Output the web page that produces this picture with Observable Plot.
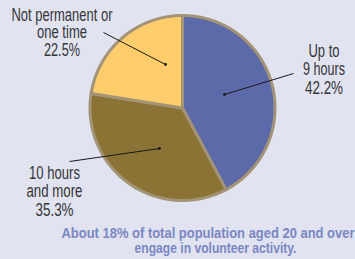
<!DOCTYPE html>
<html>
<head>
<meta charset="utf-8">
<script src="https://cdn.jsdelivr.net/npm/d3@7"></script>
<script src="https://cdn.jsdelivr.net/npm/@observablehq/plot@0.6"></script>
<style>
  html, body { margin: 0; padding: 0; background: #e1e3f1; }
  #chart { width: 355px; height: 259px; overflow: hidden; }
</style>
</head>
<body>
<div id="chart"></div>
<script>
// ---- data ----
const categories = ["Up to 9 hours", "10 hours and more", "Not permanent or one time"];
const shares = [42.2, 35.3, 22.5];
const labelLines = [
  ["Up to", "9 hours", "42.2%"],
  ["10 hours", "and more", "35.3%"],
  ["Not permanent or", "one time", "22.5%"]
];
const captionLines = [
  "About 18% of total population aged 20 and over",
  "engage in volunteer activity."
];
const colors = ["#5d6aa9", "#8b7335", "#fccd6a"];

// ---- layout (pixel space) ----
const W = 355, H = 259;
const pie = {cx: 182, cy: 107.5, r: 92.5};
const labelLayout = [
  {x: 323.5, ys: [56, 74, 93], widths: [31, 42, 38], lx1: 224, ly1: 94, lx2: 293, ly2: 73},
  {x: 54, ys: [178, 196, 215], widths: [51, 56, 38], lx1: 159, ly1: 148, lx2: 69, ly2: 161},
  {x: 61.5, ys: [20, 37.5, 55], widths: [101, 50, 36], lx1: 165, ly1: 64, lx2: 103, ly2: 32}
];
const captionLayout = [{x: 61, y: 237, width: 293}, {x: 134, y: 252.5, width: 162}];

const arcs = d3.pie().sort(null).value(d => d.value)(
  categories.map((c, i) => ({category: c, value: shares[i]}))
);
const polyPoints = [];
for (const a of arcs) {
  polyPoints.push({category: a.data.category, x: pie.cx, y: pie.cy});
  const n = Math.max(2, Math.ceil((a.endAngle - a.startAngle) / 0.01));
  for (let k = 0; k <= n; k++) {
    const t = a.startAngle + (a.endAngle - a.startAngle) * k / n;
    polyPoints.push({category: a.data.category, x: pie.cx + pie.r * Math.sin(t), y: pie.cy - pie.r * Math.cos(t)});
  }
}
const leaders = categories.map((c, i) => ({category: c, ...labelLayout[i]}));
const labelRows = [];
labelLines.forEach((lines, i) => lines.forEach((t, j) => labelRows.push({
  text: t, x: labelLayout[i].x, y: labelLayout[i].ys[j], width: labelLayout[i].widths[j]
})));
const captions = captionLines.map((t, i) => ({text: t, ...captionLayout[i]}));

const font = "'Liberation Sans', Arial, sans-serif";

function fitWidths(rows) {
  return function(index, scales, values, dims, ctx, next) {
    const g = next(index, scales, values, dims, ctx);
    d3.select(g).selectAll("text").each(function(_, k) {
      this.setAttribute("textLength", rows[index[k]].width);
      this.setAttribute("lengthAdjust", "spacingAndGlyphs");
    });
    return g;
  };
}

const chart = Plot.plot({
  width: W, height: H, margin: 0,
  x: {domain: [0, W], range: [0, W], axis: null},
  y: {domain: [0, H], range: [0, H], axis: null},
  color: {domain: categories, range: colors},
  style: {background: "#e1e3f1", fontFamily: font},
  marks: [
    Plot.line(polyPoints, {x: "x", y: "y", z: "category", fill: "category", stroke: "#a39377", strokeWidth: 3, strokeLinejoin: "round", curve: "linear-closed"}),
    Plot.link(leaders, {x1: "lx1", y1: "ly1", x2: "lx2", y2: "ly2", stroke: "#1a1a1a", strokeWidth: 1}),
    Plot.dot(leaders, {x: "lx1", y: "ly1", r: 1.4, fill: "#1a1a1a"}),
    Plot.text(labelRows, {x: "x", y: "y", text: "text", textAnchor: "middle", lineAnchor: "bottom", fontSize: 17.5, fill: "#353535", render: fitWidths(labelRows)}),
    Plot.text(captions, {x: "x", y: "y", text: "text", textAnchor: "start", lineAnchor: "bottom", fontSize: 14, fontWeight: "bold", fill: "#7b87c2", render: fitWidths(captions)})
  ]
});
document.getElementById("chart").append(chart);
</script>
</body>
</html>
